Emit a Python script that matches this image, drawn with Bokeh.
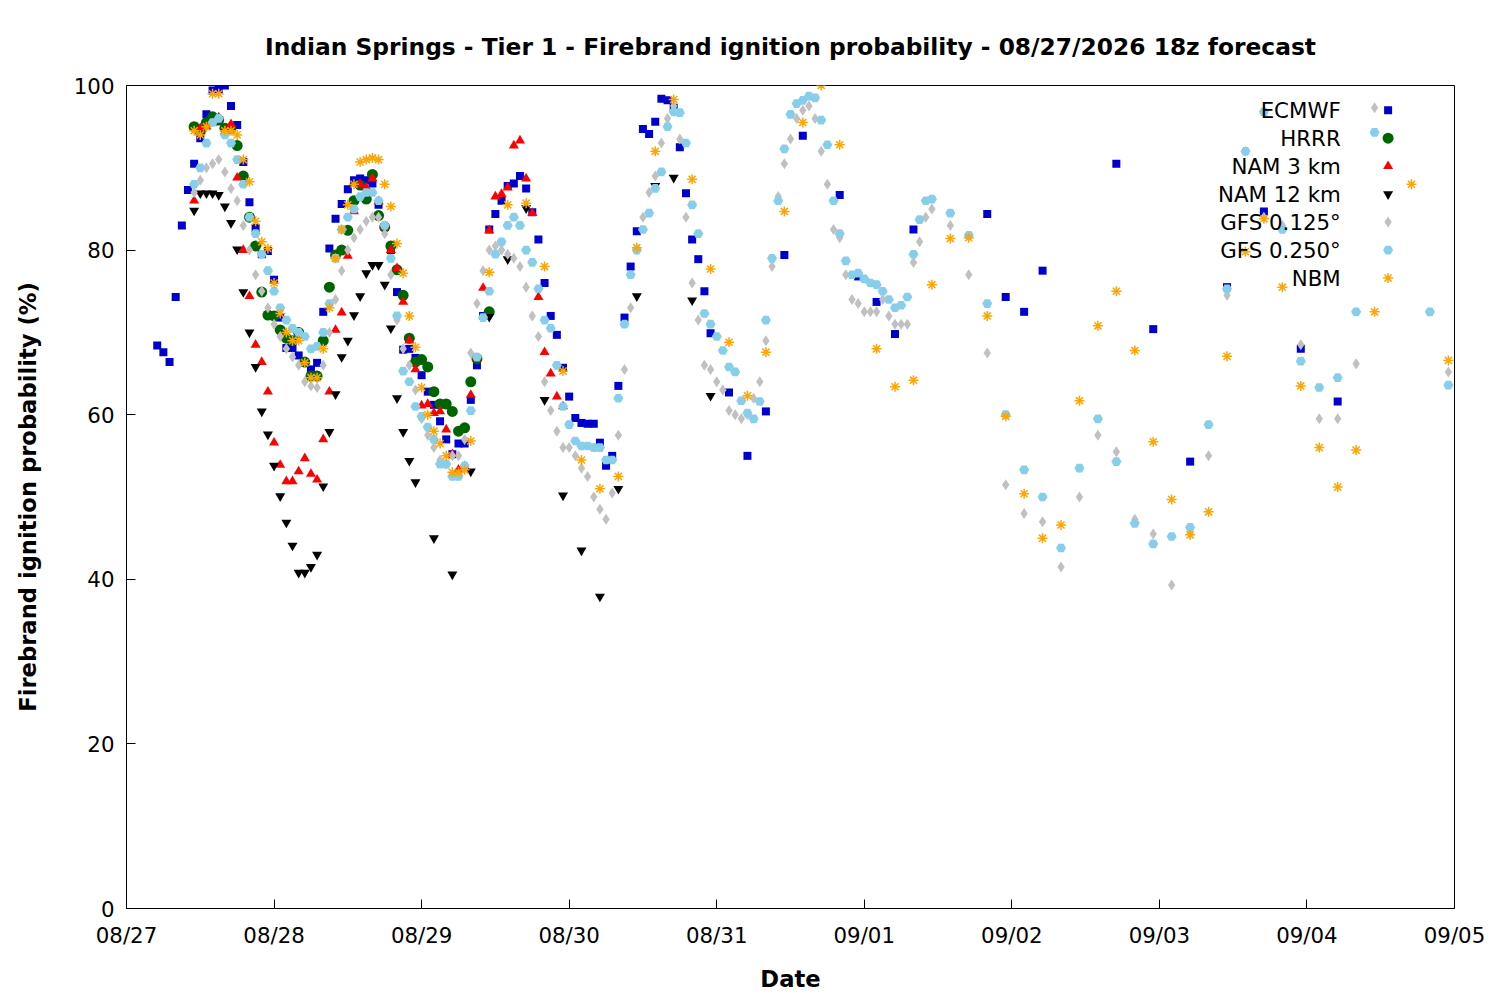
import numpy as np
from datetime import datetime, timedelta
from bokeh.plotting import figure
from bokeh.models import FixedTicker, Range1d
from bokeh.embed import file_html
from bokeh.resources import INLINE

T0 = datetime(2026, 8, 27)
FONT = "DejaVu Sans"

ecmwf_h = [5,6,7,8,9,10,11,12,13,14,15,16,17,18,19,20,21,22,23,24,25,26,27,28,29,30,31,32,33,34,35,36,37,38,39,40,41,42,43,44,45,46,47,48,49,50,51,52,53,54,55,56,57,58,59,60,61,62,63,64,65,66,67,68,69,70,71,72,73,74,75,76,77,78,79,80,81,82,83,84,85,86,87,88,89,90,91,92,93,94,95,98,101,104,107,110,116,119,122,125,128,140,143,146,149,161,167,173,179,185,191,197]
ecmwf_v = [68.4,67.6,66.4,74.3,83,87.3,90.5,93.6,96.5,99.4,99.5,100,97.5,95.2,90.7,85.8,82.7,79.5,79.9,76.4,71.8,68.1,68.1,67.2,66.3,65.5,66.3,72.5,80.2,83.8,85.6,87.4,88.5,88.7,88.5,88.1,85.5,82.8,80,74.9,67.9,68,66.9,64.8,62.8,61.2,59.2,57,55.2,56.5,56.5,61.8,66,72,82.5,84.4,86,87.8,88.1,89,87.5,84.6,81.3,76,72,69.7,65.7,62.2,59.6,59,58.9,58.9,56.6,53.8,55,63.5,71.8,78,82.3,94.7,94.1,95.6,98.4,98.2,97.3,92.5,86.9,81.3,78.9,75,69.9,62.7,55,60.4,79.4,93.9,86.7,76.8,73.7,69.8,82.5,84.4,74.3,72.5,77.5,90.5,70.4,54.3,75.5,84.7,68,61.6]

hrrr_h = list(range(11, 58)) + [59]
hrrr_v = [95,94.4,95.5,96.2,95.8,94.8,94.8,92.7,89,84,80.5,74.9,72.1,72,70.3,69.3,69,70,66.4,64.7,64.7,69,75.5,79.4,80,82.4,86,87.9,86.2,89.2,84.2,82.8,80.5,77.6,74.5,69.3,66.4,66.7,65.8,62.8,61.3,61.3,60.4,58,58.4,64,66.8,72.5]

nam3_h = list(range(11, 72))
nam3_v = [86,94.8,95,95.5,96.1,94.4,95.3,88.8,80,74.4,68.5,66.4,62.8,56.6,53.9,51.9,51.9,53.1,54.7,52.8,52.1,57,62.8,70.3,72.4,79.3,84.7,88,87.6,88.7,85.9,82.9,80,77.8,73.7,69,65.5,61.1,61.3,60.2,60.4,58.2,55.2,53.3,53.7,62.4,66.9,75.4,82.4,86.5,86.8,87.6,92.7,93.3,88.7,84.5,74.3,67.6,65,62.2,61]

nam12_h = list(range(11, 48)) + [50,53,56,59,62,65,68,71,74,77,80,83,86,89,92,95]
nam12_v = [84.8,86.9,86.9,86.9,86.7,85.3,83.3,80.1,74.9,70,65.8,60.4,57.6,53.8,50.1,46.9,44.1,40.8,40.8,41.5,43,51.3,57.9,62.5,67,69,72.1,74.4,77.2,78.2,78.2,75.8,70.5,62,57.9,54.4,51.8,
           45,40.6,53.1,71.9,78.9,85.1,61.8,50.2,43.5,37.9,51,74.4,87.8,88.8,73.9,62.3]

gfs125_h = list(range(11, 132)) + [134,137,140,143,146,149,152,155,158,161,164,167,170,173,176,179,182,185,188,191,194,197,200,203,215]
gfs125_v = [87,88.5,90,90.5,91,89.5,87.5,86,83,80,77,75,73,71,69.5,68,67,66,64,63.5,63.3,66,70,74,77.5,80,81.5,82.5,83.5,84,84,82,77,71.5,68,66,63,59.5,57.5,56,54.5,54,55,55,57,67.5,73.5,77.5,80,80.5,80,79.5,79,78,75.5,72,69.5,64,60.5,58,56,56,55,53.5,52.5,50,48.5,47.3,50.5,57.5,65.5,73,80,84,87,89,93,96,97.5,93.5,84,76,71.5,66,65.5,64,63,60.5,60,59.5,60,62,64,69,78,86.5,90.5,93.5,96,97,97.5,96,92,88,82.5,81.5,77,74,73.5,72.5,72.5,72.5,74,72,71,71,71,78.5,81,84,85,
            83,77,67.5,51.5,48,47,41.5,50,57.5,55.5,47.3,45.5,39.3,45.5,55,74.5,92,84,83,68.5,59.5,59.5,66.2,97.3,65.2]

gfs250_h = list(range(11, 132)) + [134,137,140,143,146,149,152,155,158,161,164,167,170,173,176,179,182,185,188,191,194,197,200,203,212,215]
gfs250_v = [88,90,93,95.5,96,94,93,91,88,84,82,79.5,77.5,75,73,71.5,70.5,70,69.5,68,68.3,70,73.5,79,82.5,84,85,86.5,87,87,86,83,79,72,65.3,64,61,59.8,58.5,57,54,54,52.5,52.5,53.8,60.5,67,71.8,75,79.5,81,83,84,83,80,78.5,75.3,71.5,70.5,66,61,58.8,56.8,56.2,56.2,56,56,54.5,54.5,62,71,77,80,82.5,84.5,87.5,89.5,95,96.8,96.7,93,85.5,82,72.3,71,69.5,67.8,65.8,65.2,61.7,60.2,59.5,61.6,71.5,79,86,92.3,96.5,97.8,98.2,98.7,98.5,95.8,92.8,86,82,78.7,77,77.2,76.5,76,75.8,75,74,73,73.3,74.3,79.5,83.7,86,86.2,
            84.5,81.8,73.5,60,53.3,50,43.8,53.5,59.5,54.3,46.8,44.3,45.2,46.3,58.8,75.3,92,96.8,82.5,66.5,63.3,64.5,72.5,94.3,72.5,63.6]

nbm_h = list(range(11, 57)) + [59,62,65,68,71,74,77,80,83,86,89,92,95,98,101,104,107,110,113,116,122,125,128,131,134,137,140,143,146,149,152,155,158,161,164,167,170,173,176,179,182,185,188,191,194,197,200,203,209,215]
nbm_v = [94.5,94,95,99,99,94.5,94.5,94,91,88.3,83.5,81,80.2,76,72.3,70,69,69,66.3,64.5,64.5,68,73,79,82.5,85.5,88,90.7,91,91.2,91,88,85.3,80.8,77.2,72,68.2,63.3,60,58,56.5,55,53,53,53.3,56.8,
         77.3,85.5,85.7,78,65.3,54.5,51,52.5,80.3,92,98.3,88.6,77.7,68.8,62.3,67.6,84.7,95.5,100,92.8,68,63.4,64.2,75.8,81.4,81.5,72,59.8,50.4,45,46.6,61.7,70.8,75,67.8,56.7,49.7,45.4,48.2,67.1,79.8,83.8,75.5,63.5,56,51.2,55.7,72.5,88,66.6]

names = ["ECMWF", "HRRR", "NAM 3 km", "NAM 12 km", "GFS 0.125°", "GFS 0.250°", "NBM"]
colors = ["#0000cc", "#006400", "#ff0000", "#000000", "#c0c0c0", "#87ceeb", "#ffa500"]
markers = ["square", "circle", "triangle", "inverted_triangle", "diamond", "hex", "asterisk"]
sizes = [8, 11, 10, 10, 11, 10, 10]
series = [(ecmwf_h, ecmwf_v), (hrrr_h, hrrr_v), (nam3_h, nam3_v), (nam12_h, nam12_v),
          (gfs125_h, gfs125_v), (gfs250_h, gfs250_v), (nbm_h, nbm_v)]

def to_ms(hours):
    return [(T0 + timedelta(hours=h) - datetime(1970, 1, 1)).total_seconds() * 1000 for h in hours]

day_ms = 86400000.0
x0 = to_ms([0])[0]
p = figure(width=1490, height=994, output_backend="svg", toolbar_location=None,
           x_range=Range1d(x0, x0 + 9 * day_ms), y_range=Range1d(0, 100),
           min_border_left=126, min_border_right=36, min_border_top=85, min_border_bottom=76)
p.title.text = "Indian Springs - Tier 1 - Firebrand ignition probability - 08/27/2026 18z forecast"
p.title.align = "center"
p.title.text_font = FONT
p.title.text_font_size = "17.5pt"
p.title.text_font_style = "bold"
p.title.text_color = "black"
p.title.standoff = 49
p.grid.visible = False
p.outline_line_color = "black"
p.outline_line_width = 1

labels = ["08/27", "08/28", "08/29", "08/30", "08/31", "09/01", "09/02", "09/03", "09/04", "09/05"]
ticks = [x0 + i * day_ms for i in range(len(labels))]
p.xaxis.ticker = FixedTicker(ticks=ticks)
p.xaxis.major_label_overrides = {t: l for t, l in zip(ticks, labels)}
p.yaxis.ticker = FixedTicker(ticks=[0, 20, 40, 60, 80, 100])
p.xaxis.axis_label = "Date"
p.yaxis.axis_label = "Firebrand ignition probability (%)"
for ax in (p.xaxis[0], p.yaxis[0]):
    ax.axis_label_text_font = FONT
    ax.axis_label_text_font_style = "bold"
    ax.axis_label_text_font_size = "17pt"
    ax.axis_label_text_color = "black"
    ax.major_label_text_font = FONT
    ax.major_label_text_font_size = "16pt"
    ax.major_label_text_color = "black"
    ax.major_tick_in = 9
    ax.major_tick_out = 0
    ax.minor_tick_in = 0
    ax.minor_tick_out = 0
    ax.axis_line_color = None
p.xaxis.major_label_standoff = 14
p.xaxis.axis_label_standoff = 15
p.yaxis.major_label_standoff = 12
p.yaxis.axis_label_standoff = 30

for (h, v), c, m, s in zip(series, colors, markers, sizes):
    lw = 1.5 if m == "asterisk" else 0
    p.scatter(to_ms(h), v, marker=m, size=s, fill_color=c, line_color=c, line_width=lw)

# legend (top right, gnuplot style: label then sample)
leg_x = x0 + 205.2 * 3600000
txt_x = x0 + 197.5 * 3600000
leg_y = [97.0 - 3.4 * i for i in range(len(names))]
for n, c, m, s, y in zip(names, colors, markers, sizes, leg_y):
    lw = 1.5 if m == "asterisk" else 0
    p.scatter([leg_x], [y], marker=m, size=s, fill_color=c, line_color=c, line_width=lw)
p.text(x=[txt_x] * len(names), y=leg_y, text=names, text_align="right", text_baseline="middle",
       text_font={"value": FONT}, text_font_size="16pt", text_color="black")

open("out.html", "w").write(file_html(p, INLINE))
